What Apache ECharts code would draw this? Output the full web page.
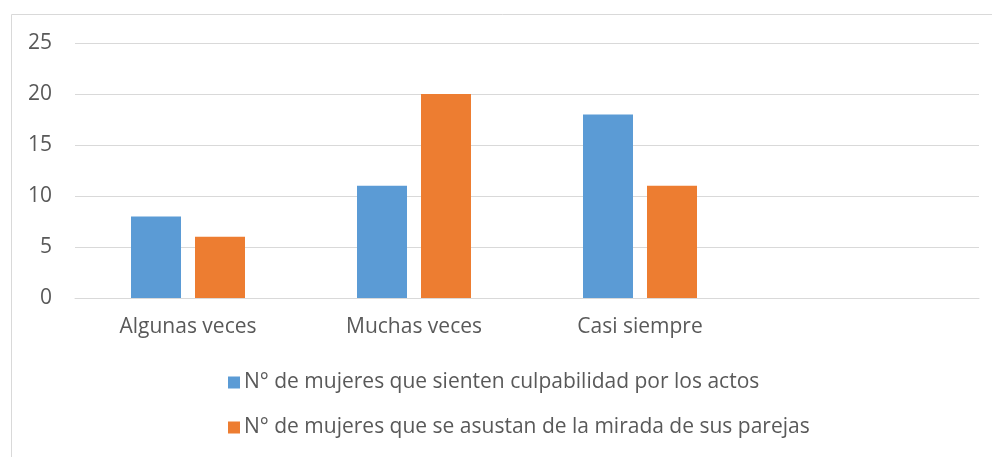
<!DOCTYPE html>
<html>
<head>
<meta charset="utf-8">
<script src="https://cdn.jsdelivr.net/npm/echarts@6/dist/echarts.min.js"></script>
<style>
  html, body { margin: 0; padding: 0; background: #fff; }
  #chart { width: 992px; height: 457px; }
</style>
</head>
<body>
<div id="chart"></div>
<script>
// categories (4th slot is empty in the original)
var categories = ['Algunas veces', 'Muchas veces', 'Casi siempre', '']
var culpa = [8, 11, 18, '-']
var miedo = [6, 20, 11, '-']
var seriesNames = [
  'N° de mujeres que sienten culpabilidad por los actos',
  'N° de mujeres que se asustan de la mirada de sus parejas'
]

var chart = echarts.init(document.getElementById('chart'))
var font = '"Open Sans", "Noto Sans", sans-serif'

chart.setOption({
  animation: false,
  color: ['#5b9bd5', '#ed7d31'],
  textStyle: { fontFamily: font },
  graphic: [{
    type: 'rect',
    shape: { x: 11.5, y: 14.5, width: 1000, height: 500 },
    style: { fill: 'none', stroke: '#d9d9d9', lineWidth: 1 }
  }],
  legend: {
    orient: 'vertical',
    left: 223,
    top: 367,
    itemWidth: 12,
    itemHeight: 12,
    itemGap: 24,
    icon: 'rect',
    textStyle: { fontSize: 21, color: '#595959', fontFamily: font, padding: [0, 0, 0, -1] },
    data: seriesNames
  },
  grid: { left: 75, right: 13, top: 43, bottom: 159 },
  xAxis: {
    type: 'category',
    data: categories,
    axisLine: { lineStyle: { color: '#d9d9d9', width: 1 } },
    axisTick: { show: false },
    axisLabel: { fontSize: 21, color: '#595959', margin: 19 }
  },
  yAxis: {
    type: 'value',
    min: 0,
    max: 25,
    interval: 5,
    axisLine: { show: false },
    axisTick: { show: false },
    axisLabel: { fontSize: 21, color: '#595959', margin: 23 },
    splitLine: { lineStyle: { color: '#d9d9d9', width: 1 } }
  },
  series: [
    {
      name: seriesNames[0],
      type: 'bar',
      data: culpa,
      barWidth: 50,
      barGap: '28%'
    },
    {
      name: seriesNames[1],
      type: 'bar',
      data: miedo,
      barWidth: 50
    }
  ]
})
</script>
</body>
</html>
